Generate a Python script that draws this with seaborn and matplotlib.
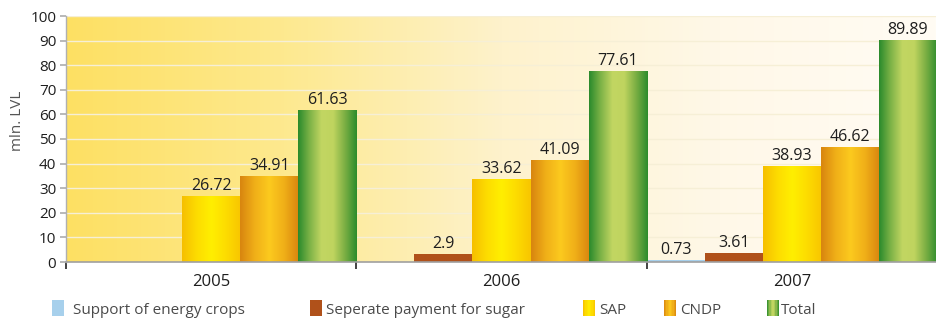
import numpy as np
import pandas as pd
import matplotlib
matplotlib.use("Agg")
import matplotlib.pyplot as plt
from matplotlib.colors import LinearSegmentedColormap, to_rgb
from matplotlib.patches import Rectangle
from matplotlib.legend_handler import HandlerBase
import seaborn as sns

# ---- data ----
years = ["2005", "2006", "2007"]
series = ["Support of energy crops", "Seperate payment for sugar", "SAP", "CNDP", "Total"]
energy = [np.nan, np.nan, 0.73]
sugar = [np.nan, 2.9, 3.61]
sap = [26.72, 33.62, 38.93]
cndp = [34.91, 41.09, 46.62]
total = [61.63, 77.61, 89.89]
yticks = [0, 10, 20, 30, 40, 50, 60, 70, 80, 90, 100]

values = [energy, sugar, sap, cndp, total]
rows = []
for s, vals in zip(series, values):
    for y, v in zip(years, vals):
        if not np.isnan(v):
            rows.append({"year": y, "series": s, "value": v})
df = pd.DataFrame(rows)

base_colors = ["#A7D0EC", "#B0511A", "#FBD600", "#EBA818", "#8DBB4A"]
gradients = [
    ["#A7D0EC", "#A7D0EC"],
    ["#B0511A", "#B0511A"],
    ["#F6BF00", "#FDDC00", "#FFEF00", "#FDDC00", "#F8C500"],
    ["#D8850F", "#F0AF18", "#FCCA1E", "#F0AF18", "#D8850F"],
    ["#2A8A2C", "#7DB347", "#C2D662", "#BFD45F", "#7AAE43", "#2C8C2C"],
]

sns.set_theme(style="white")
plt.rcParams["font.family"] = ["Open Sans", "DejaVu Sans"]

fig = plt.figure(figsize=(9.37, 3.2), dpi=100)
ax = fig.add_axes([0.0704, 0.18125, 0.9296, 0.76875])

sns.barplot(data=df, x="year", y="value", hue="series", order=years,
            hue_order=series, palette=base_colors, width=1.0, gap=0,
            errorbar=None, ax=ax, legend=False, saturation=1)

ax.set_xlim(-0.5, 2.5)
ax.set_ylim(0, 100)

# background gradient
bg = LinearSegmentedColormap.from_list("bg", ["#FDE063", "#FDE98F", "#FEF2CC", "#FFF8E8", "#FFFCF4"])
grad = np.linspace(0, 1, 256).reshape(1, -1)
ax.imshow(grad, cmap=bg, extent=(-0.5, 2.5, 0, 100), aspect="auto", zorder=0)

# gridlines
for t in yticks[1:]:
    ax.axhline(t, color="#F6EFD6", lw=1.0, zorder=1)

# gradient bars
color_rgb = [np.round(to_rgb(c), 3) for c in base_colors]
for p in list(ax.patches):
    fc = np.round(p.get_facecolor()[:3], 3)
    idx = int(np.argmin([np.abs(fc - c).sum() for c in color_rgb]))
    x0, w, h = p.get_x(), p.get_width(), p.get_height()
    if h <= 0 or np.isnan(h):
        continue
    cm = LinearSegmentedColormap.from_list(f"g{idx}", gradients[idx])
    ax.imshow(grad, cmap=cm, extent=(x0, x0 + w, 0, h), aspect="auto", zorder=2)
    p.set_visible(False)
    ax.text(x0 + w / 2, h + 1.0, f"{h:g}", ha="center", va="bottom",
            fontsize=11.5, color="#1E1E1E", zorder=4)

ax.set_xlim(-0.5, 2.5)
ax.set_ylim(0, 100)

# axes styling
for s in ["top", "right"]:
    ax.spines[s].set_visible(False)
ax.spines["left"].set_color("#B0B0B0")
ax.spines["bottom"].set_color("#A0A0A0")
ax.spines["left"].set_linewidth(1.0)
ax.spines["bottom"].set_linewidth(1.2)
ax.set_yticks(yticks)
ax.tick_params(axis="y", which="major", left=True, length=4, color="#B0B0B0",
               labelsize=11, labelcolor="#1E1E1E", pad=3)
ax.tick_params(axis="x", which="major", bottom=False, labelsize=12,
               labelcolor="#1E1E1E", pad=3)
ax.set_xticks([-0.5, 0.5, 1.5], minor=True)
ax.tick_params(axis="x", which="minor", bottom=True, length=5, width=1.2, color="#222222")
ax.set_xlabel("")
ax.set_ylabel("mln. LVL", fontsize=11, color="#555555")
ax.yaxis.set_label_coords(-0.047, 0.575)


# legend with gradient swatches
class GradHandler(HandlerBase):
    def __init__(self, cols):
        super().__init__()
        self.cols = cols

    def create_artists(self, legend, orig_handle, xdescent, ydescent, width,
                       height, fontsize, trans):
        cm = LinearSegmentedColormap.from_list("h", self.cols)
        n = 10
        sw = width
        sh = 11.5
        x0 = -xdescent
        y0 = -ydescent + (height - sh) / 2
        arts = []
        for i in range(n):
            r = Rectangle((x0 + i * sw / n, y0), sw / n + 0.05, sh,
                          facecolor=cm((i + 0.5) / n), edgecolor="none",
                          transform=trans)
            arts.append(r)
        return arts


leg_x = [52, 310, 583, 664, 767]
leg_pad = [0.62, 0.3, 0.3, 0.3, 0.15]
for s, g, xp, pad in zip(series, gradients, leg_x, leg_pad):
    h = Rectangle((0, 0), 1, 1, label=s)
    leg = fig.legend(handles=[h], labels=[s], handler_map={h: GradHandler(g)},
                     loc="center left", bbox_to_anchor=(xp / 937, 10 / 320),
                     frameon=False, fontsize=11, handlelength=0.78,
                     handletextpad=pad, borderpad=0, borderaxespad=0)
    for t in leg.get_texts():
        t.set_color("#4A4A4A")

fig.savefig("out.png", dpi=100)
